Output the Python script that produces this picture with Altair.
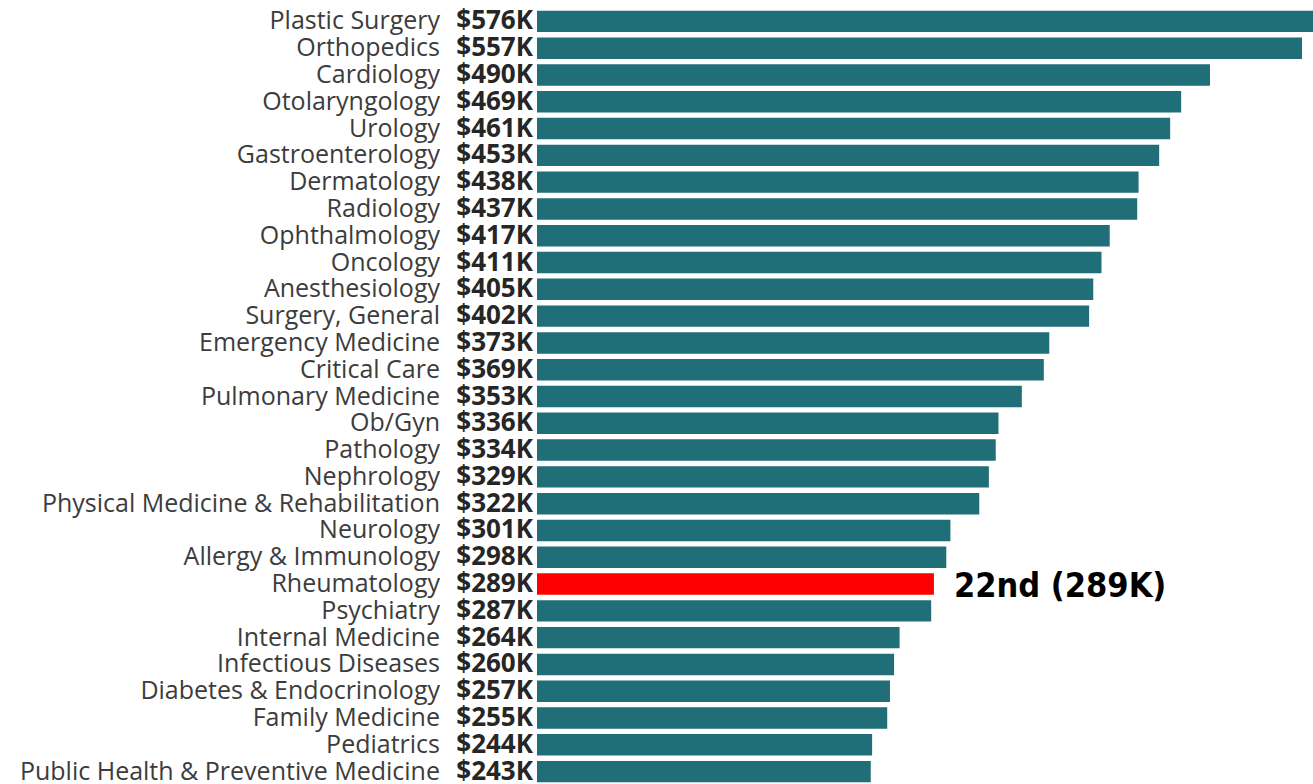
import altair as alt
import pandas as pd

specialties = [
    "Plastic Surgery", "Orthopedics", "Cardiology", "Otolaryngology", "Urology",
    "Gastroenterology", "Dermatology", "Radiology", "Ophthalmology", "Oncology",
    "Anesthesiology", "Surgery, General", "Emergency Medicine", "Critical Care",
    "Pulmonary Medicine", "Ob/Gyn", "Pathology", "Nephrology",
    "Physical Medicine & Rehabilitation", "Neurology", "Allergy & Immunology",
    "Rheumatology", "Psychiatry", "Internal Medicine", "Infectious Diseases",
    "Diabetes & Endocrinology", "Family Medicine", "Pediatrics",
    "Public Health & Preventive Medicine",
]
salaries_k = [576, 557, 490, 469, 461, 453, 438, 437, 417, 411, 405, 402, 373, 369,
              353, 336, 334, 329, 322, 301, 298, 289, 287, 264, 260, 257, 255, 244, 243]
highlight = "Rheumatology"
annotation = "22nd (289K)"

df = pd.DataFrame({"specialty": specialties, "salary": salaries_k})
df["label"] = ["$" + str(v) + "K" for v in salaries_k]
df["hl"] = df["specialty"] == highlight

y = alt.Y("specialty:N", sort=specialties, axis=None,
          scale=alt.Scale(paddingInner=0.2, paddingOuter=0.1))
x = alt.X("salary:Q", axis=None, scale=alt.Scale(domain=[0, 565]))

base = alt.Chart(df)

bars = base.mark_bar(clip=True).encode(
    x=x, y=y,
    color=alt.condition(alt.datum.hl, alt.value("#ff0000"), alt.value("#1f6e78")),
)

values = base.mark_text(align="right", baseline="middle", fontSize=26,
                        fontWeight="bold", font="Open Sans", color="#262626").encode(
    x=alt.value(-4), y=y, text="label:N")

names = base.mark_text(align="right", baseline="middle", fontSize=25,
                       font="Open Sans", color="#3c3c3c").encode(
    x=alt.value(-97), y=y, text="specialty:N")

annot = base.transform_filter(alt.datum.hl).mark_text(
    align="left", baseline="middle", dx=20, dy=3, fontSize=34, fontWeight="bold",
    font="DejaVu Sans Condensed", color="#000000").encode(
    x=x, y=y, text=alt.value(annotation))

chart = alt.layer(bars, values, names, annot).properties(
    width=776, height=777,
    padding={"left": 537, "top": 8, "right": 0, "bottom": 0},
    autosize=alt.AutoSizeParams(type="none"),
).configure_view(stroke=None)

chart.save("out.html", embed_options={"renderer": "svg", "actions": False})
